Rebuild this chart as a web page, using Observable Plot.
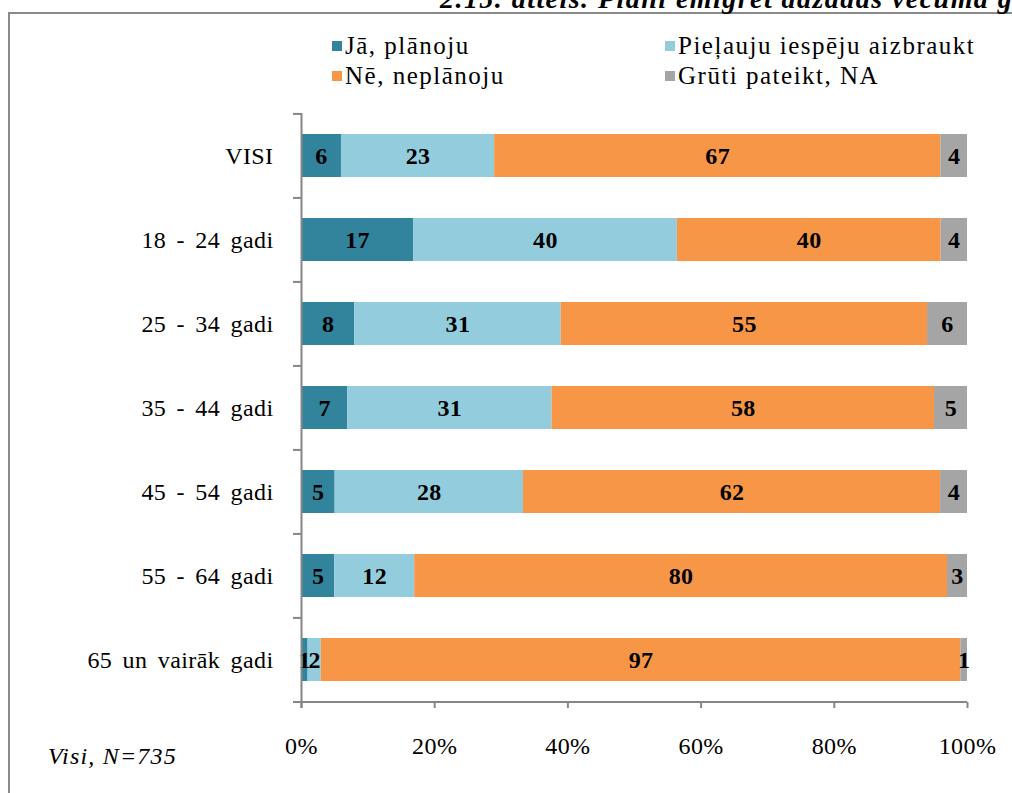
<!DOCTYPE html>
<html>
<head>
<meta charset="utf-8">
<script src="https://cdn.jsdelivr.net/npm/d3@7"></script>
<script src="https://cdn.jsdelivr.net/npm/@observablehq/plot@0.6"></script>
<style>
  html, body { margin: 0; padding: 0; background: #fff; overflow: hidden; }
  #page { position: relative; width: 1012px; height: 793px; overflow: hidden; font-family: "Liberation Serif", "Times New Roman", serif; }
  #frame { position: absolute; left: 8px; top: 12px; width: 1100px; height: 900px; border: 2px solid #8a8a8a; box-sizing: border-box; }
  #title { position: absolute; left: 440px; top: -15px; font-family: "Liberation Serif", serif; font-size: 28px; line-height: 28px; letter-spacing: 1.45px; font-weight: bold; font-style: italic; white-space: nowrap; }
  #chart { position: absolute; left: 0; top: 0; }
  .leg { position: absolute; font-family: "Liberation Serif", serif; font-size: 25px; line-height: 25px; letter-spacing: 1.5px; white-space: nowrap; }
  .leg span.sw { display: inline-block; width: 10px; height: 10px; margin-right: 3px; vertical-align: 3px; }
  #note { position: absolute; left: 48px; top: 744px; font-family: "Liberation Serif", serif; font-size: 24px; font-style: italic; letter-spacing: 1.2px; line-height: 24px; white-space: nowrap; }
</style>
</head>
<body>
<div id="page">
  <div id="frame"></div>
  <div id="title">2.15. attēls. Plāni emigrēt dažādās vecuma grupās</div>
  <div id="chart"></div>
  <div id="legend"></div>
  <div id="note">Visi, N=735</div>
</div>
<script>
const groups = ["VISI", "18 - 24 gadi", "25 - 34 gadi", "35 - 44 gadi", "45 - 54 gadi", "55 - 64 gadi", "65 un vairāk gadi"];
const series = ["Jā, plānoju", "Pieļauju iespēju aizbraukt", "Nē, neplānoju", "Grūti pateikt, NA"];
const colors = ["#31849B", "#93CDDD", "#F79646", "#A5A5A5"];
const ja = [6, 17, 8, 7, 5, 5, 1];
const pielauju = [23, 40, 31, 31, 28, 12, 2];
const ne = [67, 40, 55, 58, 62, 80, 97];
const gruti = [4, 4, 6, 5, 4, 3, 1];
const xTicks = [0, 0.2, 0.4, 0.6, 0.8, 1];

const valuesBySeries = [ja, pielauju, ne, gruti];
const data = [];
groups.forEach((g, i) => {
  series.forEach((s, j) => {
    data.push({group: g, series: s, value: valuesBySeries[j][i]});
  });
});

const axisColor = "#868686";
const step = (702 - 113) / groups.length;

const chart = Plot.plot({
  width: 1012,
  height: 793,
  marginLeft: 301,
  marginRight: 45,
  marginTop: 113,
  marginBottom: 91,
  style: {fontFamily: "'Liberation Serif', 'Times New Roman', serif", background: "transparent", wordSpacing: "4px", letterSpacing: "0.4px"},
  x: {domain: [0, 1], ticks: xTicks, tickFormat: d3.format(".0%"), label: null},
  y: {domain: groups, paddingInner: 0.49, paddingOuter: 0.245, label: null},
  color: {domain: series, range: colors},
  marks: [
    Plot.barX(data, Plot.stackX({x: "value", y: "group", fill: "series", offset: "normalize"})),
    Plot.text(data, Plot.stackX({x: "value", y: "group", text: d => String(d.value), offset: "normalize",
      fontWeight: "bold", fontSize: 24, fill: "#000"})),
    // axis lines
    Plot.ruleY([groups[groups.length - 1]], {x1: -0.012, x2: 1, dy: step / 2, stroke: axisColor, strokeWidth: 2}),
    Plot.ruleX([0], {stroke: axisColor, strokeWidth: 2, insetBottom: -6}),
    // category boundary ticks on y axis
    Plot.ruleY(groups, {x1: -0.012, x2: 0, dy: -step / 2, stroke: axisColor, strokeWidth: 2}),
    Plot.axisX({ticks: xTicks, tickFormat: d3.format(".0%"), tickSize: 6, tickPadding: 28, fontSize: 24, stroke: axisColor, strokeWidth: 2, color: "#000", label: null}),
    Plot.axisY({tickSize: 0, tickPadding: 28, fontSize: 24, label: null})
  ]
});
document.getElementById("chart").appendChild(chart);

// legend
const legendPos = [
  {left: 332, top: 33}, {left: 665, top: 33},
  {left: 332, top: 63}, {left: 665, top: 63}
];
const legend = document.getElementById("legend");
series.forEach((s, i) => {
  const d = document.createElement("div");
  d.className = "leg";
  d.style.left = legendPos[i].left + "px";
  d.style.top = legendPos[i].top + "px";
  d.innerHTML = `<span class="sw" style="background:${colors[i]}"></span>${s}`;
  legend.appendChild(d);
});
</script>
</body>
</html>
